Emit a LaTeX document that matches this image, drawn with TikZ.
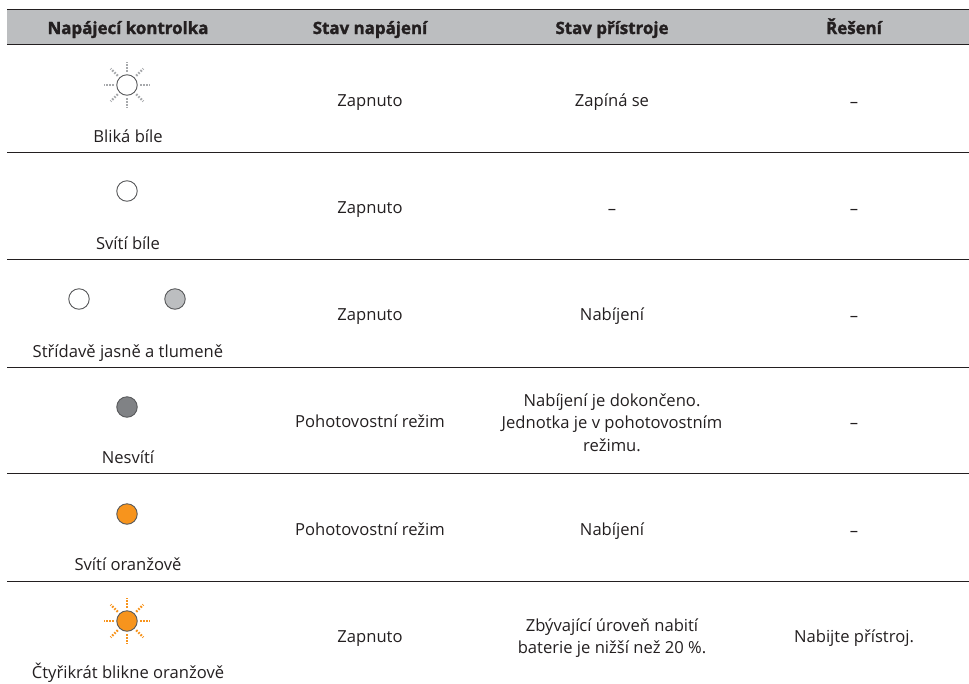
\documentclass[tikz,border=0pt]{standalone}
\usepackage{fontspec}
\setmainfont[BoldFeatures={FakeBold=1.6}]{Open Sans}
\usetikzlibrary{calc}
\definecolor{hdr}{HTML}{BCBEC0}
\definecolor{ink}{HTML}{231F20}
\definecolor{ring}{HTML}{58595B}
\definecolor{dim}{HTML}{BCBEC0}
\definecolor{darkled}{HTML}{808285}
\definecolor{orangeled}{HTML}{F7941D}
\definecolor{raygray}{HTML}{A7A9AC}
\tikzset{x=1pt,y=-1pt,
  cellbase/.style={font=\fontsize{16.6}{22.3}\selectfont,text=ink,align=center,anchor=center,inner sep=0pt},
  cell/.style={cellbase,text height=12pt,text depth=4pt},
  head/.style={font=\fontsize{16.9}{20}\selectfont\bfseries,text=ink,anchor=center,inner sep=0pt,text height=12pt,text depth=4pt},
  rule/.style={draw=ink,line width=0.9pt},
  led/.style={circle,draw=ring,line width=0.9pt,minimum size=20.5pt,inner sep=0pt},
  ray/.style={line width=2.2pt,dash pattern=on 1.7pt off 1.4pt}}
\newcommand{\rays}[2]{%
  \foreach \a in {0,45,...,315}{
    \draw[ray,#2] ($(#1)+(\a:13pt)$) -- ($(#1)+(\a:23pt)$);}
}
\begin{document}
\begin{tikzpicture}
\useasboundingbox (0,0) rectangle (969,683);
\fill[hdr] (7,9) rectangle (969,44);
\coordinate (hl) at (7,9); \coordinate (hr) at (969,9);
\coordinate (bl) at (7,44); \coordinate (br) at (969,44);
\draw[rule] (hl) -- (hr);
\draw[rule] (bl) -- (br);
\foreach \y in {152,259,367,473,581}{
  \coordinate (ll\y) at (7,\y); \coordinate (lr\y) at (969,\y);
  \draw[rule] (ll\y) -- (lr\y);}
\node[head] (h1) at (128,30) {Napájecí kontrolka};
\node[head] (h2) at (370,30) {Stav napájení};
\node[head] (h3) at (612,30) {Stav přístroje};
\node[head] (h4) at (854,30) {Řešení};
% Row 1
\node[led,fill=white] (l1) at (127,85) {};
\rays{l1}{raygray}
\node[cell] (t1) at (128,138) {Bliká bíle};
\node[cell] (a1) at (370,102) {Zapnuto};
\node[cell] (b1) at (612,102) {Zapíná se};
\node[cell] (c1) at (854,103) {–};
% Row 2
\node[led,fill=white] (l2) at (127,191) {};
\node[cell] (t2) at (128,245) {Svítí bíle};
\node[cell] (a2) at (370,209) {Zapnuto};
\node[cell] (b2) at (612,210) {–};
\node[cell] (c2) at (854,210) {–};
% Row 3
\node[led,fill=white] (l3a) at (79,299) {};
\node[led,fill=dim] (l3b) at (175,299) {};
\node[cell] (t3) at (128,353) {Střídavě jasně a tlumeně};
\node[cell] (a3) at (370,316) {Zapnuto};
\node[cell] (b3) at (612,316) {Nabíjení};
\node[cell] (c3) at (854,317) {–};
% Row 4
\node[led,fill=darkled] (l4) at (127,407) {};
\node[cell] (t4) at (128,459) {Nesvítí};
\node[cell] (a4) at (370,423) {Pohotovostní režim};
\node[cellbase] (b4) at (612,422.5) {Nabíjení je dokončeno.\\Jednotka je v pohotovostním\\režimu.};
\node[cell] (c4) at (854,424) {–};
% Row 5
\node[led,fill=orangeled] (l5) at (127,514) {};
\node[cell] (t5) at (128,566) {Svítí oranžově};
\node[cell] (a5) at (370,531) {Pohotovostní režim};
\node[cell] (b5) at (612,531) {Nabíjení};
\node[cell] (c5) at (854,532) {–};
% Row 6
\node[led,fill=orangeled] (l6) at (127,621) {};
\rays{l6}{orangeled}
\node[cell] (t6) at (128,674) {Čtyřikrát blikne oranžově};
\node[cell] (a6) at (370,638) {Zapnuto};
\node[cellbase] (b6) at (612,638) {Zbývající úroveň nabití\\baterie je nižší než 20 \%.};
\node[cell] (c6) at (854,638) {Nabijte přístroj.};
\end{tikzpicture}
\end{document}
